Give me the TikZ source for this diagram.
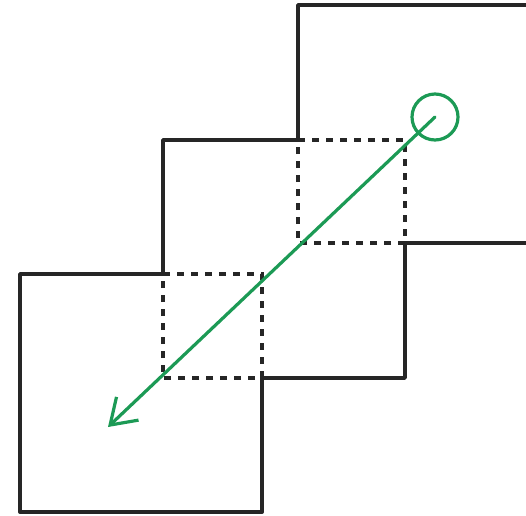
\documentclass[tikz,border=0pt]{standalone}
\usetikzlibrary{arrows.meta}
\definecolor{pen}{HTML}{262626}
\definecolor{marker}{HTML}{1C9A55}
\tikzset{
  outline/.style={draw=pen, line width=3.8pt, line cap=round, line join=round},
  hidden/.style={draw=pen, line width=3.4pt, dash pattern=on 7pt off 7pt},
  path arrow/.style={draw=marker, line width=3.2pt, line cap=round,
    -{Straight Barb[length=24pt, width=32pt, line width=3.2pt]}},
  start ring/.style={draw=marker, line width=3.2pt, circle, minimum size=46pt, inner sep=0pt}
}
\begin{document}
\begin{tikzpicture}[x=1pt, y=-1pt]
  \useasboundingbox (0,0) rectangle (526,515);
  \clip (0,0) rectangle (526,515);

  % outer boundary of the three stacked squares
  \draw[outline] (298,140) -- (298,5) -- (530,5);
  \draw[outline] (405,243) -- (530,243);
  \draw[outline] (298,140) -- (163,140) -- (163,274);
  \draw[outline] (405,243) -- (405,378) -- (262,378);
  \draw[outline] (163,274) -- (20,274) -- (20,512) -- (262,512) -- (262,378);

  % hidden edges inside the overlaps
  \draw[hidden] (298,140) -- (405,140) -- (405,243) -- (298,243) -- cycle;
  \draw[hidden] (163,274) -- (262,274) -- (262,378) -- (163,378) -- cycle;

  % start marker and direction arrow
  \node[start ring] (ring) at (435,117) {};
  \coordinate (tip) at (108,427);
  \draw[path arrow] (ring.center) -- (tip);
\end{tikzpicture}
\end{document}
